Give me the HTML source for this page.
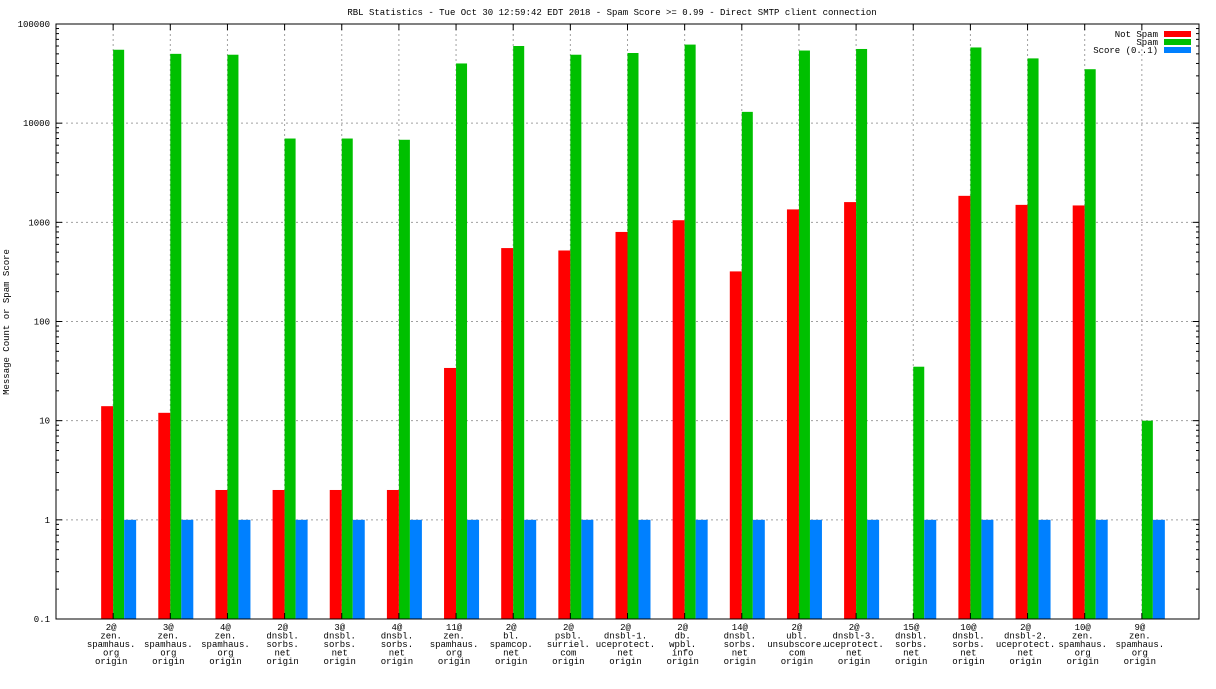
<!DOCTYPE html>
<html><head><meta charset="utf-8"><style>
body{margin:0;background:#fff;}
svg text{font-family:"Liberation Mono","DejaVu Sans Mono",monospace;font-size:9px;fill:#000;}
</style></head><body>
<svg id="chart" width="1216" height="684" xmlns="http://www.w3.org/2000/svg">
<text x="612" y="15" text-anchor="middle">RBL Statistics - Tue Oct 30 12:59:42 EDT 2018 - Spam Score &gt;= 0.99 - Direct SMTP client connection</text>
<text transform="translate(9,322) rotate(-90)" text-anchor="middle">Message Count or Spam Score</text>
<g id="grid"></g><g id="bars"></g><g id="axes"></g>
<g>
<text x="1158" y="37" text-anchor="end">Not Spam</text>
<rect x="1164" y="31" width="27" height="6" fill="#ff0000"/>
<text x="1158" y="45" text-anchor="end">Spam</text>
<rect x="1164" y="39" width="27" height="6" fill="#00c000"/>
<text x="1158" y="53" text-anchor="end">Score (0..1)</text>
<rect x="1164" y="47" width="27" height="6" fill="#0080ff"/>
</g>
</svg>
<script>
const categories=[["2@","zen.","spamhaus.","org","origin"],["3@","zen.","spamhaus.","org","origin"],["4@","zen.","spamhaus.","org","origin"],["2@","dnsbl.","sorbs.","net","origin"],["3@","dnsbl.","sorbs.","net","origin"],["4@","dnsbl.","sorbs.","net","origin"],["11@","zen.","spamhaus.","org","origin"],["2@","bl.","spamcop.","net","origin"],["2@","psbl.","surriel.","com","origin"],["2@","dnsbl-1.","uceprotect.","net","origin"],["2@","db.","wpbl.","info","origin"],["14@","dnsbl.","sorbs.","net","origin"],["2@","ubl.","unsubscore.","com","origin"],["2@","dnsbl-3.","uceprotect.","net","origin"],["15@","dnsbl.","sorbs.","net","origin"],["10@","dnsbl.","sorbs.","net","origin"],["2@","dnsbl-2.","uceprotect.","net","origin"],["10@","zen.","spamhaus.","org","origin"],["9@","zen.","spamhaus.","org","origin"]];
const notSpam=[14,12,2,2,2,2,34,550,520,800,1050,320,1350,1600,0,1850,1500,1480,0];
const spam=[55000,50000,49000,7000,7000,6800,40000,60000,49000,51000,62000,13000,54000,56000,35,58000,45000,35000,10];
const score=[1,1,1,1,1,1,1,1,1,1,1,1,1,1,1,1,1,1,1];
const yTicks=[0.1,1,10,100,1000,10000,100000];
const yTickLabels=["0.1","1","10","100","1000","10000","100000"];
const NS="http://www.w3.org/2000/svg";
const L=56,R=1199,T=24,B=619;
const slot=(R-L)/(categories.length+1);
function xs(i){return L+slot*(i+1);}
function ys(v){return B-(Math.log10(v)+1)/6*(B-T);}
function mk(tag,attrs,parent){const e=document.createElementNS(NS,tag);for(const k in attrs)e.setAttribute(k,attrs[k]);parent.appendChild(e);return e;}
const grid=document.getElementById('grid'),bars=document.getElementById('bars'),axes=document.getElementById('axes');
yTicks.forEach((v,k)=>{const y=ys(v);
 if(k>0&&k<yTicks.length-1){const g=mk('line',{x1:L,x2:R,y1:y,y2:y,stroke:'#a0a0a0','stroke-dasharray':'2,3'},grid);}
 mk('line',{x1:L,x2:L+6,y1:y,y2:y,stroke:'#000'},axes);mk('line',{x1:R-6,x2:R,y1:y,y2:y,stroke:'#000'},axes);
 const t=mk('text',{x:L-6,y:y+3,'text-anchor':'end'},axes);t.textContent=yTickLabels[k];
 
 if(k<yTicks.length-1)for(let m=2;m<10;m++){const yy=ys(v*m);mk('line',{x1:L,x2:L+3,y1:yy,y2:yy,stroke:'#000'},axes);mk('line',{x1:R-3,x2:R,y1:yy,y2:yy,stroke:'#000'},axes);}
});
const series=[[notSpam,'#ff0000','not-spam',-12,12],[spam,'#00c000','spam',0,11],[score,'#0080ff','score',11,12]];
categories.forEach((c,i)=>{const x=xs(i);
 const g=mk('line',{x1:x,x2:x,y1:T,y2:B,stroke:'#a0a0a0','stroke-dasharray':'2,3'},grid);
 mk('line',{x1:x,x2:x,y1:B,y2:B-6,stroke:'#000'},axes);mk('line',{x1:x,x2:x,y1:T,y2:T+6,stroke:'#000'},axes);
 series.forEach(s=>{const v=s[0][i];if(!(v>0.1))return;const y=ys(v);
  const r=mk('rect',{x:x+s[3],y:y,width:s[4],height:B-y,fill:s[1]},bars);
  });
 c.forEach((line,j)=>{const t=mk('text',{x:x-2,y:B+11+j*8.5,'text-anchor':'middle'},axes);t.textContent=line;
  });
});
const fr=mk('rect',{x:L,y:T,width:R-L,height:B-T,fill:'none',stroke:'#000'},axes);

</script>
</body></html>
